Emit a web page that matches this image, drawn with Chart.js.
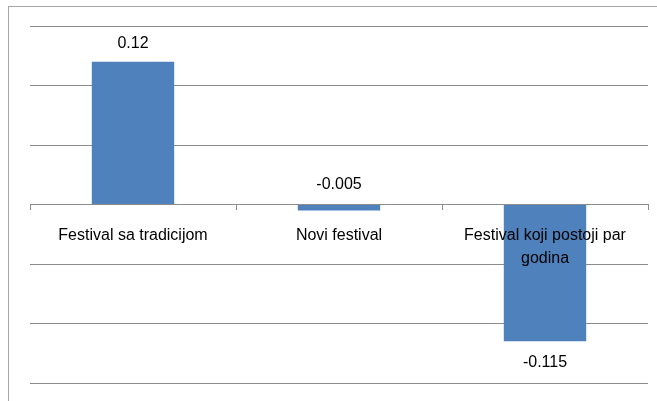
<!DOCTYPE html>
<html>
<head>
<meta charset="utf-8">
<script src="https://cdn.jsdelivr.net/npm/chart.js@4"></script>
<style>
  html, body { margin: 0; padding: 0; background: #fff; }
  #wrap { position: relative; width: 657px; height: 401px; }
  #frame { position: absolute; left: 8px; top: 6px; width: 660px; height: 420px; border: 1px solid #a6a6a6; box-sizing: border-box; }
  canvas { position: absolute; left: 0; top: 0; }
</style>
</head>
<body>
<div id="wrap">
  <div id="frame"></div>
  <canvas id="c" width="657" height="401"></canvas>
</div>
<script>
const categories = [
  'Festival sa tradicijom',
  'Novi festival',
  ['Festival koji postoji par', 'godina']
];
const values = [0.12, -0.005, -0.115];
const valueLabels = ['0.12', '-0.005', '-0.115'];

const FONT = '"Liberation Sans", Arial, sans-serif';

// draws the numbers next to each bar
const barLabels = {
  id: 'barLabels',
  afterDatasetsDraw(chart) {
    const ctx = chart.ctx;
    const zero = chart.scales.y.getPixelForValue(0);
    ctx.save();
    ctx.font = '16px ' + FONT;
    ctx.fillStyle = '#000';
    ctx.textAlign = 'center';
    ctx.textBaseline = 'middle';
    chart.getDatasetMeta(0).data.forEach((bar, i) => {
      let y;
      if (values[i] >= 0) y = bar.y - 18;
      else if (bar.y - zero < 30) y = zero - 20;
      else y = bar.y + 21;
      ctx.fillText(valueLabels[i], bar.x, y);
    });
    ctx.restore();
  }
};

new Chart(document.getElementById('c'), {
  type: 'bar',
  data: {
    labels: categories,
    datasets: [{
      data: values,
      backgroundColor: '#4f81bd',
      barPercentage: 0.4,
      categoryPercentage: 1
    }]
  },
  options: {
    responsive: false,
    animation: false,
    layout: { padding: { left: 30, right: 9, top: 26, bottom: 18 } },
    plugins: { legend: { display: false }, tooltip: { enabled: false } },
    scales: {
      x: {
        position: { y: 0 },
        offset: true,
        grid: { offset: true, drawOnChartArea: false, drawTicks: true, tickLength: 5, color: '#8c8c8c' },
        border: { display: true, color: '#8c8c8c' },
        ticks: { z: 1, color: '#000', font: { family: FONT, size: 16, lineHeight: 1.4 }, padding: 15, maxRotation: 0 }
      },
      y: {
        min: -0.15,
        max: 0.15,
        ticks: { display: false, stepSize: 0.05 },
        grid: { color: '#8c8c8c', drawTicks: false },
        border: { display: false }
      }
    }
  },
  plugins: [barLabels]
});
</script>
</body>
</html>
